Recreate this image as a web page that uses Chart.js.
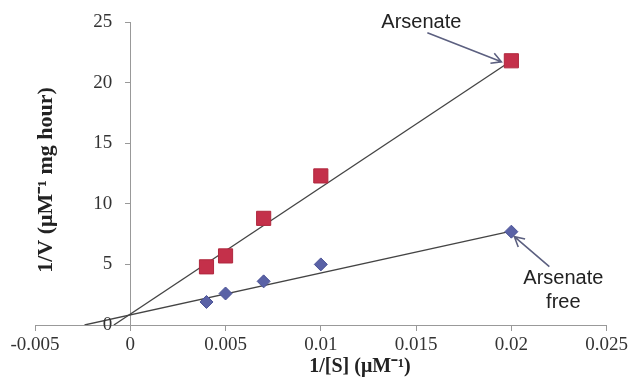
<!DOCTYPE html>
<html>
<head>
<meta charset="utf-8">
<script src="https://cdn.jsdelivr.net/npm/chart.js@4/dist/chart.umd.min.js"></script>
<style>
  html, body { margin: 0; padding: 0; background: #fff; }
  #wrap { width: 632px; height: 379px; }
</style>
</head>
<body>
<div id="wrap"><canvas id="lbChart"></canvas></div>
<script>
// Lineweaver-Burk data
const invS = [0.004, 0.005, 0.007, 0.01, 0.02];
const invVArsenate = [4.8, 5.7, 8.8, 12.3, 21.8];
const invVFree = [1.9, 2.6, 3.6, 5.0, 7.7];

// trendline end points (x-intercept to last point)
const fitArsenateX = [-0.00086, 0.02];
const fitArsenateY = [0, 21.8];
const fitFreeX = [-0.0024, 0.02];
const fitFreeY = [0, 7.75];

const xTicks = [-0.005, 0, 0.005, 0.01, 0.015, 0.02, 0.025];
const yTicks = [0, 5, 10, 15, 20, 25];

const pts = (xs, ys) => xs.map((x, i) => ({ x: x, y: ys[i] }));

const serif = 'Liberation Serif';

// y tick labels (left of the x=0 axis), axis titles, arrow labels
const annotate = {
  id: 'annotate',
  afterDraw(chart) {
    const ctx = chart.ctx;
    const xs = chart.scales.x, ys = chart.scales.y;
    const area = chart.chartArea;
    ctx.save();

    // y tick labels
    ctx.fillStyle = '#333';
    ctx.font = '19px "' + serif + '"';
    ctx.textAlign = 'right';
    ctx.textBaseline = 'middle';
    const x0 = xs.getPixelForValue(0);
    yTicks.forEach(v => ctx.fillText(String(v), x0 - 18, ys.getPixelForValue(v)));

    // axis titles
    ctx.fillStyle = '#222';
    ctx.textAlign = 'center';
    ctx.font = 'bold 20px "' + serif + '"';
    ctx.fillText('1/[S] (\u03bcM\u207b\u00b9)', 360, area.bottom + 42);
    ctx.save();
    ctx.font = 'bold 22px "' + serif + '"';
    ctx.translate(46, 180);
    ctx.rotate(-Math.PI / 2);
    ctx.fillText('1/V (\u03bcM\u207b\u00b9 mg hour)', 0, 0);
    ctx.restore();

    // labels
    ctx.font = '20px "Liberation Sans"';
    const ax = xs.getPixelForValue(invS[4]);
    const ay = ys.getPixelForValue(invVArsenate[4]);
    ctx.fillText('Arsenate', ax - 90, ay - 38);
    const fy = ys.getPixelForValue(invVFree[4]);
    ctx.fillText('Arsenate', ax + 52, fy + 47);
    ctx.fillText('free', ax + 52, fy + 71);

    const arrow = (x1, y1, x2, y2) => {
      const a = Math.atan2(y2 - y1, x2 - x1);
      const h = 11;
      ctx.beginPath();
      ctx.moveTo(x1, y1);
      ctx.lineTo(x2, y2);
      ctx.moveTo(x2 - h * Math.cos(a - 0.5), y2 - h * Math.sin(a - 0.5));
      ctx.lineTo(x2, y2);
      ctx.lineTo(x2 - h * Math.cos(a + 0.5), y2 - h * Math.sin(a + 0.5));
      ctx.stroke();
    };
    ctx.strokeStyle = '#5c6080';
    ctx.lineWidth = 1.6;
    arrow(ax - 84, ay - 28, ax - 10, ay + 1);
    arrow(ax + 38, fy + 35, ax + 3, fy + 5);
    ctx.restore();
  }
};

const ctx = document.getElementById('lbChart').getContext('2d');
const lbChart = new Chart(ctx, {
  type: 'scatter',
  data: {
    datasets: [
      {
        label: 'Arsenate',
        data: pts(invS, invVArsenate),
        pointStyle: 'rect',
        pointRadius: 10,
        backgroundColor: '#c4304a',
        borderColor: '#b0283e',
        borderWidth: 1
      },
      {
        label: 'Arsenate free',
        data: pts(invS, invVFree),
        pointStyle: 'rectRot',
        pointRadius: 6.5,
        backgroundColor: '#5a62a6',
        borderColor: '#4a5296',
        borderWidth: 1
      },
      {
        label: 'fit arsenate',
        data: pts(fitArsenateX, fitArsenateY),
        showLine: true,
        pointRadius: 0,
        borderColor: '#444',
        borderWidth: 1.3
      },
      {
        label: 'fit free',
        data: pts(fitFreeX, fitFreeY),
        showLine: true,
        pointRadius: 0,
        borderColor: '#444',
        borderWidth: 1.3
      }
    ]
  },
  options: {
    responsive: true,
    maintainAspectRatio: false,
    animation: false,
    layout: { padding: { left: 35, right: 25, top: 22, bottom: 54 } },
    plugins: {
      legend: { display: false },
      tooltip: { enabled: false }
    },
    scales: {
      x: {
        type: 'linear',
        position: { y: 0 },
        min: -0.005,
        max: 0.025,
        afterBuildTicks: s => { s.ticks = xTicks.map(v => ({ value: v })); },
        afterFit: s => { s.height = 0; },
        border: { color: '#999', width: 1 },
        grid: { drawOnChartArea: false, drawTicks: true, tickLength: 5, color: '#999' },
        ticks: {
          color: '#333',
          font: { family: serif, size: 19 },
          padding: 4,
          maxRotation: 0,
          autoSkip: false,
          callback: v => String(v)
        }
      },
      y: {
        type: 'linear',
        position: { x: 0 },
        min: 0,
        max: 25,
        afterBuildTicks: s => { s.ticks = yTicks.map(v => ({ value: v })); },
        afterFit: s => { s.width = 0; },
        border: { color: '#999', width: 1 },
        grid: { drawOnChartArea: false, drawTicks: true, tickLength: 5, color: '#999' },
        ticks: { display: false }
      }
    }
  },
  plugins: [annotate]
});
</script>
</body>
</html>
